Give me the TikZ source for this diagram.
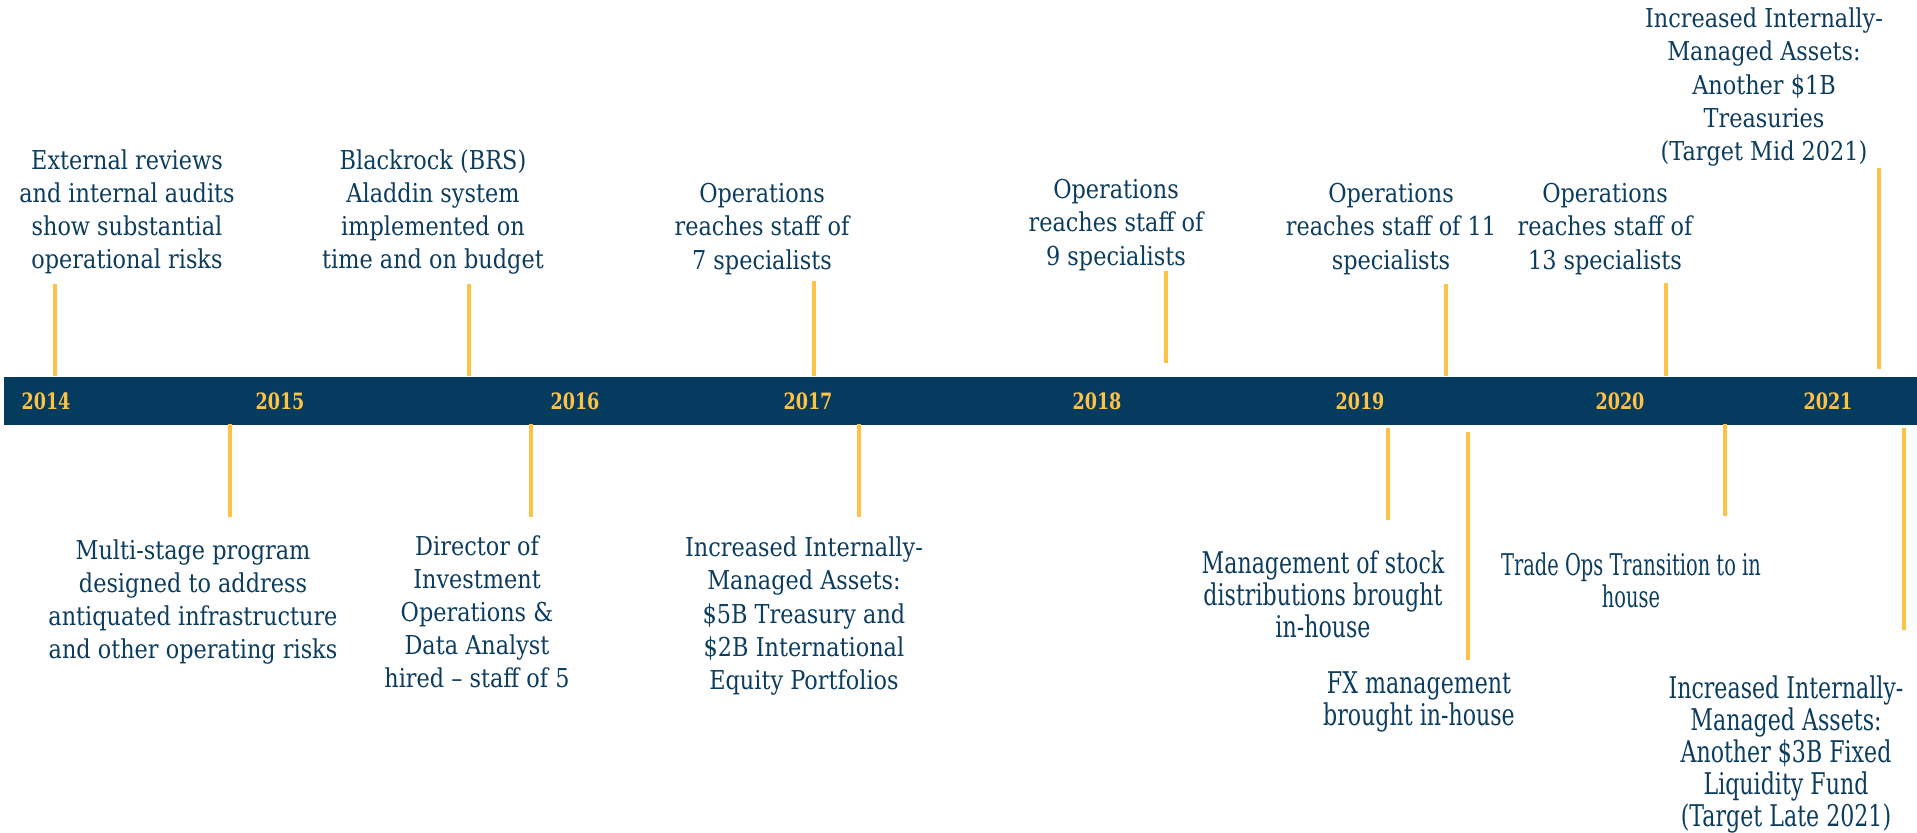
\documentclass[tikz,border=0pt]{standalone}
\usepackage{fontspec}
\setmainfont{DejaVu Serif}[FakeStretch=0.86]
\newfontfamily\condfont{DejaVu Serif}[FakeStretch=0.74]
\newfontfamily\narrowfont{DejaVu Serif}[FakeStretch=0.65]
\newfontfamily\yearfont{DejaVu Serif}[FakeStretch=0.78]
\usepackage{xcolor}
\definecolor{barNavy}{HTML}{053B5E}
\definecolor{textNavy}{HTML}{0C3D5F}
\definecolor{accentGold}{HTML}{FFC247}
\usepackage{tikz}
\usetikzlibrary{positioning}
\tikzset{
  event/.style={text=textNavy, align=center, inner sep=0pt,
                font=\fontsize{7.4}{9.4}\selectfont},
  eventcond/.style={event, font=\condfont\fontsize{8.5}{9.1}\selectfont},
  yearlabel/.style={text=accentGold, inner sep=0pt,
                font=\yearfont\bfseries\fontsize{6.4}{7}\selectfont},
  stem/.style={draw=accentGold, line width=0.04cm},
}

\begin{document}
\begin{tikzpicture}[x=0.01cm, y=-0.01cm]
  \useasboundingbox (0,0) rectangle (1917,832);

  % timeline bar and years
  \node[fill=barNavy, anchor=north west, inner sep=0pt,
        minimum width=19.14cm, minimum height=0.48cm] (bar) at (3,376) {};
  \foreach \yr/\x in {2014/46, 2015/280, 2016/575, 2017/808,
                      2018/1097, 2019/1360, 2020/1620, 2021/1828}
    \node[yearlabel] (y\yr) at (\x,401) {\yr};

  % stems above the bar
  \foreach \n/\x/\ya/\yb in {1/55/284/376, 2/469/284/376, 3/814/281/376,
                             4/1166/271/363, 5/1446/284/376, 6/1666/283/376,
                             7/1879/168/369} {
    \coordinate (up\n a) at (\x,\ya);
    \coordinate (up\n b) at (\x,\yb);
    \draw[stem] (up\n a) -- (up\n b);
  }

  % stems below the bar
  \foreach \n/\x/\ya/\yb in {1/230/424/517, 2/531/424/517, 3/859/424/517,
                             4/1388/428/520, 5/1468/432/660, 6/1725/424/516,
                             7/1904/428/630} {
    \coordinate (dn\n a) at (\x,\ya);
    \coordinate (dn\n b) at (\x,\yb);
    \draw[stem] (dn\n a) -- (dn\n b);
  }

  % events above
  \node[event] (reviews) at (127,212) {External reviews\\and internal audits\\show substantial\\operational risks};
  \node[event] (aladdin) at (433,212) {Blackrock (BRS)\\Aladdin system\\implemented on\\time and on budget};
  \node[event] (staffseven) at (762,229) {Operations\\reaches staff of\\7 specialists};
  \node[event] (staffnine) at (1116,225) {Operations\\reaches staff of\\9 specialists};
  \node[event] (staffeleven) at (1391,229) {Operations\\reaches staff of 11\\specialists};
  \node[event] (stafftherteen) at (1605,229) {Operations\\reaches staff of\\13 specialists};
  \node[event] (treasuries) at (1764,87) {Increased Internally-\\Managed Assets:\\Another \$1B\\Treasuries\\(Target Mid 2021)};

  % events below
  \node[event] (program) at (193,602) {Multi-stage program\\designed to address\\antiquated infrastructure\\and other operating risks};
  \node[event] (director) at (477,612) {Director of\\Investment\\Operations \&\\Data Analyst\\hired -- staff of 5};
  \node[event] (portfolios) at (804,616) {Increased Internally-\\Managed Assets:\\\$5B Treasury and\\\$2B International\\Equity Portfolios};
  \node[eventcond] (stock) at (1323,594) {Management of stock\\distributions brought\\in-house};
  \node[eventcond] (fxmgmt) at (1419,702) {FX management\\brought in-house};
  \node[eventcond, font=\narrowfont\fontsize{8.5}{9.1}\selectfont] (tradeops) at (1631,580) {Trade Ops Transition to in\\house};
  \node[eventcond] (liquidity) at (1786,754) {Increased Internally-\\Managed Assets:\\Another \$3B Fixed\\Liquidity Fund\\(Target Late 2021)};
\end{tikzpicture}
\end{document}
